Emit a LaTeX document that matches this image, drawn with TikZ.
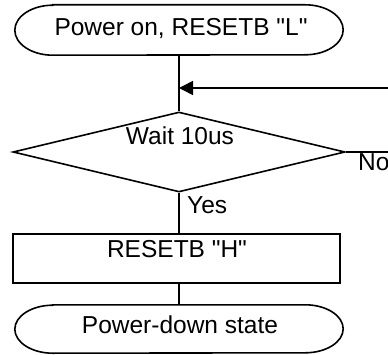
\documentclass[tikz,border=0pt]{standalone}
\usepackage{fontspec}
\setmainfont{Liberation Sans}
\usetikzlibrary{shapes.geometric,arrows.meta}
\begin{document}
\begin{tikzpicture}[x=1pt,y=1pt,
  every node/.style={font=\fontsize{24.5}{28}\selectfont},
  outline/.style={draw=black,line width=1.6pt},
  conn/.style={draw=black,line width=1.6pt},
  termbox/.style={rectangle,inner sep=0pt,minimum width=328pt,minimum height=50pt},
  procbox/.style={rectangle,draw=black,line width=1.6pt,inner sep=0pt,minimum width=327pt,minimum height=49pt},
  decbox/.style={diamond,draw=black,line width=1.6pt,inner sep=0pt,minimum width=332pt,minimum height=80pt,aspect=4.15},
  arr/.style={-{Triangle[length=14pt,width=14pt]}}]
\useasboundingbox (0,0) rectangle (388,354);
% shapes
\node[termbox] (start) at (179,324) {};
\draw[outline] ([xshift=38pt]start.north west) -- ([xshift=-38pt]start.north east)
  arc[start angle=90,end angle=-90,x radius=38pt,y radius=25pt]
  -- ([xshift=38pt]start.south west)
  arc[start angle=270,end angle=90,x radius=38pt,y radius=25pt] -- cycle;
\node[decbox] (dec) at (179,202) {};
\node[procbox] (box) at (176.5,95.5) {};
\node[termbox,minimum height=48pt] (stop) at (179,25) {};
\draw[outline] ([xshift=38pt]stop.north west) -- ([xshift=-38pt]stop.north east)
  arc[start angle=90,end angle=-90,x radius=38pt,y radius=24pt]
  -- ([xshift=38pt]stop.south west)
  arc[start angle=270,end angle=90,x radius=38pt,y radius=24pt] -- cycle;
% texts
\node[anchor=base] (t1) at (181,318) {Power on, RESETB \textquotedbl L\textquotedbl};
\node[anchor=base] (t2) at (180,209) {Wait 10us};
\node[anchor=base] (t3) at (177,97) {RESETB \textquotedbl H\textquotedbl};
\node[anchor=base] (t4) at (180,21) {Power-down state};
\node[anchor=base west,inner sep=0pt] (yes) at (187,141) {Yes};
\node[anchor=base west,inner sep=0pt] (no) at (358,184) {No};
% connectors
\coordinate (loopin) at (388,266);
\draw[conn] (start.south) -- (dec.north);
\draw[conn,arr] (loopin) -- (loopin -| start.south);
\draw[conn] (dec.east) -- (dec.east -| loopin);
\draw[conn] (dec.south) -- (dec.south |- box.north);
\draw[conn] (box.south -| stop.north) -- (stop.north);
\end{tikzpicture}
\end{document}
